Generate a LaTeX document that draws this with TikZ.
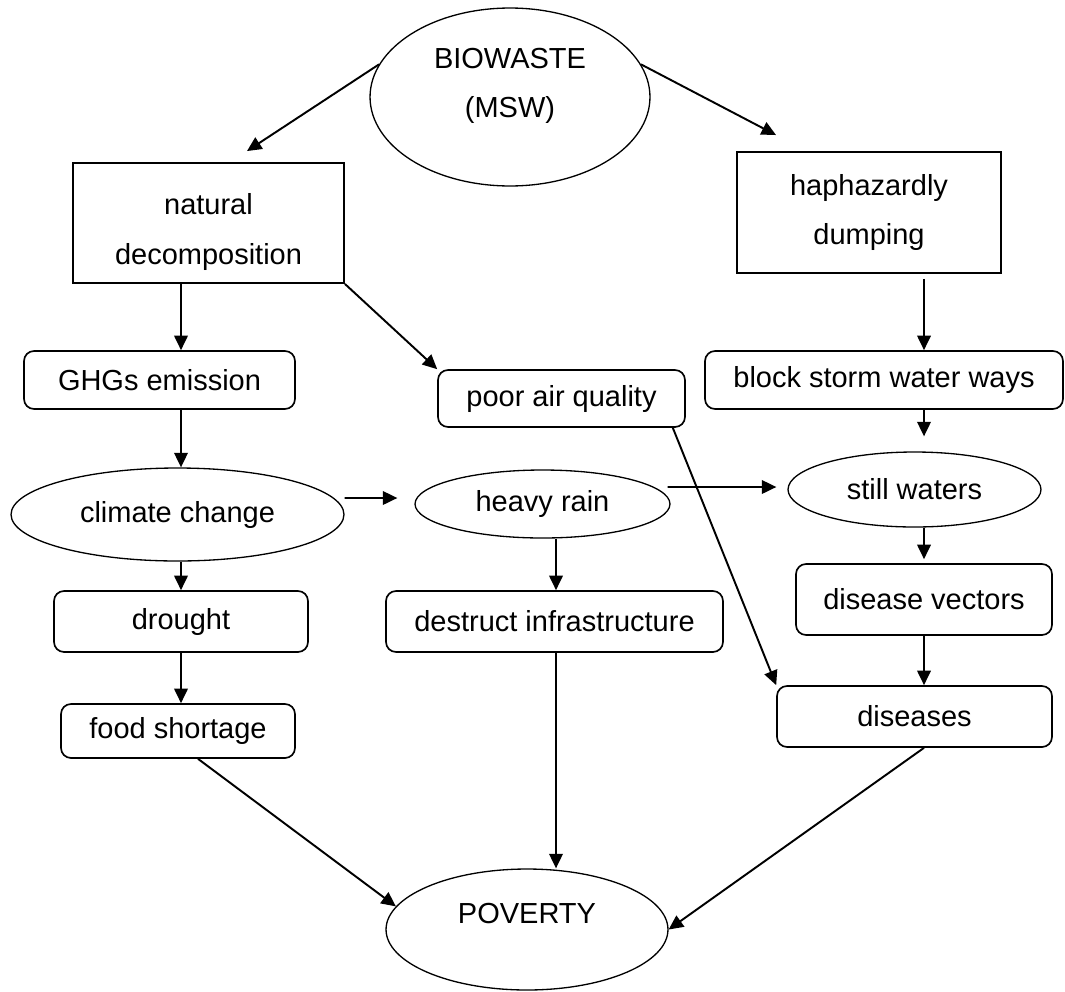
\documentclass[tikz,border=0pt]{standalone}
\usepackage{fontspec}
\setmainfont{Liberation Sans}
\usetikzlibrary{shapes.geometric,arrows.meta}

\begin{document}
\begin{tikzpicture}[x=0.02cm,y=-0.02cm,
        >={Triangle[length=0.29cm,width=0.27cm]},
        every node/.style={font=\fontsize{16.5}{28}\selectfont, align=center, inner sep=0pt},
        scatola/.style={draw, line width=1.1pt},
        tonda/.style={draw, rounded corners=0.2cm, line width=0.95pt},
        ovale/.style={draw, ellipse, line width=0.75pt},
        freccia/.style={->, line width=1.1pt}]

        % Cornice della figura
        \useasboundingbox (0,0) rectangle (1065,991);

        % Colonne delle frecce verticali
        \coordinate (colsx) at (181,0);
        \coordinate (colcx) at (556,0);
        \coordinate (coldx) at (924,0);

        % Nodi in alto
        \node[ovale, minimum width=5.6cm, minimum height=3.56cm,
            label={[yshift=0.23cm]center:{BIOWASTE\\(MSW)}}] (bio) at (510,97) {};
        \node[scatola, minimum width=5.42cm, minimum height=2.4cm,
            label={[yshift=-0.18cm]center:{natural\\decomposition}}] (nat) at (208.5,223) {};
        \node[scatola, minimum width=5.28cm, minimum height=2.42cm] (hap) at (869,212.5) {haphazardly\\dumping};

        % Colonna di sinistra
        \node[tonda, minimum width=5.42cm, minimum height=1.16cm] (ghg) at (159.5,380) {GHGs emission};
        \node[ovale, minimum width=6.66cm, minimum height=1.86cm] (clim) at (177.5,514.5) {climate change};
        \node[tonda, minimum width=5.08cm, minimum height=1.22cm] (drought) at (181,621.5) {drought};
        \node[tonda, minimum width=4.68cm, minimum height=1.08cm] (food) at (178,731) {food shortage};

        % Colonna centrale
        \node[tonda, minimum width=4.94cm, minimum height=1.14cm] (poor) at (561.5,398.5) {poor air quality};
        \node[ovale, minimum width=5.1cm, minimum height=1.36cm] (heavy) at (542.5,504) {heavy rain};
        \node[tonda, minimum width=6.74cm, minimum height=1.22cm] (destr) at (554.5,621.5) {destruct infrastructure};

        % Colonna di destra
        \node[tonda, minimum width=7.16cm, minimum height=1.16cm] (block) at (884,380) {block storm water ways};
        \node[ovale, minimum width=5.06cm, minimum height=1.5cm] (still) at (914.5,489.5) {still waters};
        \node[tonda, minimum width=5.12cm, minimum height=1.42cm] (vect) at (924,599.5) {disease vectors};
        \node[tonda, minimum width=5.5cm, minimum height=1.22cm] (dis) at (914.5,716.5) {diseases};

        % Nodo finale
        \node[ovale, minimum width=5.64cm, minimum height=2.42cm,
            label={[yshift=0.32cm]center:POVERTY}] (pov) at (527,929.5) {};

        % Frecce dalla radice
        \draw[freccia] (bio.166) -- ([xshift=0.77cm,yshift=0.22cm]nat.north);
        \draw[freccia] (bio.14) -- ([xshift=0.8cm,yshift=0.32cm]hap.north west);

        % Frecce a sinistra
        \draw[freccia] (nat.south -| colsx) -- (ghg.north -| colsx);
        \draw[freccia] (ghg.south -| colsx) -- (clim.north -| colsx);
        \draw[freccia] (clim.south -| colsx) -- (drought.north -| colsx);
        \draw[freccia] (drought.south -| colsx) -- (food.north -| colsx);
        \draw[freccia] (nat.south east) -- (poor.north west);

        % Frecce orizzontali
        \draw[freccia] ([yshift=0.33cm]clim.east) -- ([xshift=-0.34cm,yshift=0.12cm]heavy.west);
        \draw[freccia] ([xshift=-0.06cm,yshift=0.34cm]heavy.east) -- ([xshift=-0.22cm,yshift=0.05cm]still.west);

        % Frecce al centro
        \draw[freccia] (heavy.south -| colcx) -- (destr.north -| colcx);
        \draw[freccia] (poor.south east) ++(-0.26cm,0) coordinate (poorout) -- (dis.north west);

        % Frecce a destra
        \draw[freccia, shorten <=0.1cm] (hap.south -| coldx) -- (block.north -| coldx);
        \draw[freccia, shorten >=0.3cm] (block.south -| coldx) -- (still.north -| coldx);
        \draw[freccia, shorten >=0.08cm] (still.south -| coldx) -- (vect.north -| coldx);
        \draw[freccia] (vect.south -| coldx) -- (dis.north -| coldx);

        % Frecce verso POVERTY
        \draw[freccia] ([xshift=0.4cm]food.south) -- (pov.170);
        \draw[freccia] (destr.south -| colcx) -- (pov.north -| colcx);
        \draw[freccia] (dis.south -| coldx) -- (pov.east);
    \end{tikzpicture}
\end{document}
